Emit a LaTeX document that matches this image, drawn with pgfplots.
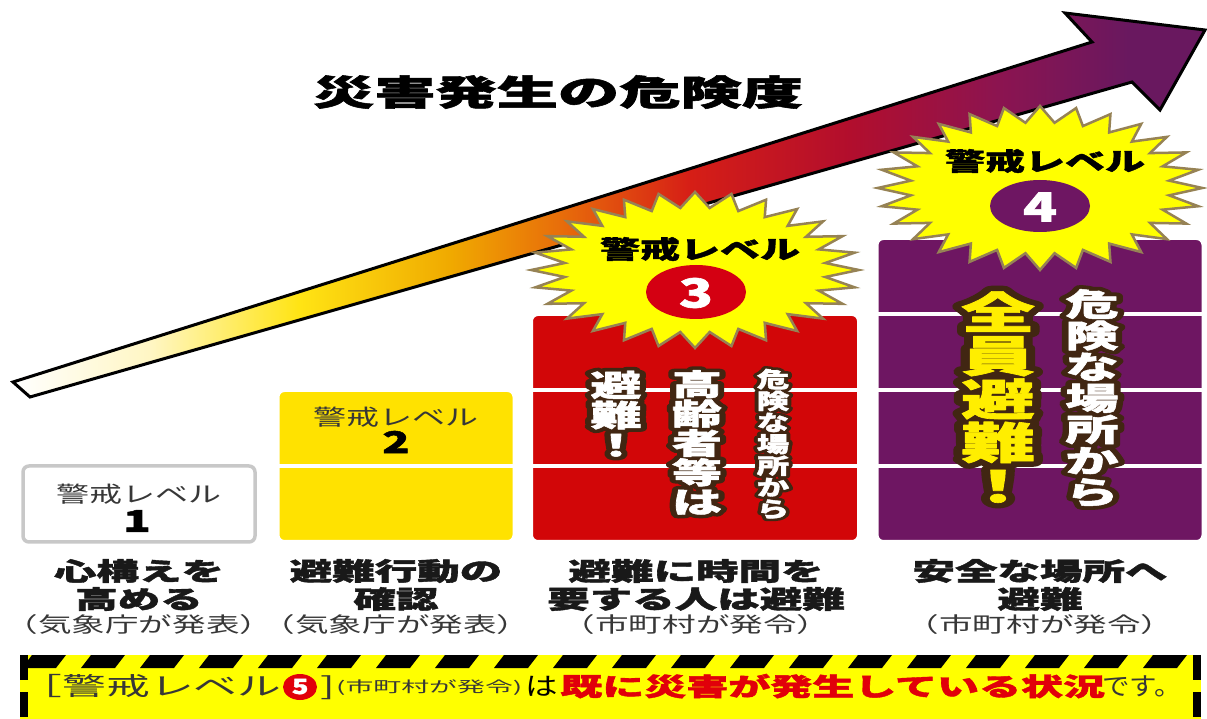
\documentclass[border=0pt]{standalone}
\usepackage{fontspec}
\setmainfont{Noto Sans CJK JP}[BoldFeatures={FakeBold=1.5}]
\newfontfamily\olfont{Noto Sans CJK JP}[BoldFeatures={FakeBold=26}]
\usepackage{graphicx}
\usepackage{pgfplots}
\pgfplotsset{compat=1.18}
\usetikzlibrary{shapes.geometric}

\definecolor{lvgray}{RGB}{200,200,200}
\definecolor{lv2}{RGB}{255,226,0}
\definecolor{lv3}{RGB}{210,6,8}
\definecolor{lv4}{RGB}{110,22,98}
\definecolor{bursty}{RGB}{255,255,0}
\definecolor{burstline}{RGB}{150,130,85}
\definecolor{olbrown}{RGB}{65,38,18}
\definecolor{bigyel}{RGB}{255,238,0}
\definecolor{banyel}{RGB}{255,255,0}
\definecolor{banred}{RGB}{225,0,10}
\definecolor{txgray}{RGB}{55,55,55}
\definecolor{c3}{RGB}{212,0,18}
\definecolor{a1}{RGB}{255,246,195}
\definecolor{a2}{RGB}{255,228,20}
\definecolor{a3}{RGB}{240,170,0}
\definecolor{a4}{RGB}{232,110,10}
\definecolor{a5}{RGB}{214,30,22}
\definecolor{a6}{RGB}{178,14,45}
\definecolor{a7}{RGB}{140,20,80}
\definecolor{a8}{RGB}{105,24,95}

\pgfdeclarehorizontalshading{arrowshade}{100bp}{color(0bp)=(white); color(25bp)=(white); color(30.8bp)=(a1); color(37bp)=(a2); color(43.3bp)=(a3); color(47.9bp)=(a4); color(53.4bp)=(a5); color(60.1bp)=(a6); color(66.3bp)=(a7); color(71.8bp)=(a8); color(100bp)=(a8)}

\newcommand\vstack[1]{\vbox{\offinterlineskip\halign{\hfil\vrule height .88em depth .12em width 0pt##\hfil\cr#1\crcr}}}
% outlined vertical text: emboldened copy in outline colour, plain copy on top
\newcommand\olv[3]{\hbox{\rlap{\color{#1}\special{pdf:code 1 j}\olfont\bfseries\vstack{#3}}{\color{#2}\bfseries\vstack{#3}}}}
\newcommand\T[3]{\scalebox{#1}[1]{\fontsize{#2}{#2}\selectfont #3}}

\pgfplotsset{base/.style={scale only axis, width=1207pt, height=718pt, xmin=0, xmax=1207,
  axis lines=none, ticks=none, at={(0pt,0pt)}, anchor=south west, clip=true}}

\begin{document}
\begin{tikzpicture}
% rising danger arrow
\begin{axis}[base, ymin=0, ymax=718, y dir=reverse]
\addplot[draw=black, line width=3pt, line join=miter, shade, shading=arrowshade, mark=none]
  coordinates {(13,382) (1092,42) (1065,13) (1205,30) (1160,110) (1132,82) (30,397)} -- cycle;
\end{axis}
% warning level blocks (number of blocks = level)
\begin{axis}[base, ymin=-2.31579, ymax=7.13158]
\addplot[ybar, bar shift=0pt, bar width=232, fill=white, draw=lvgray, line width=3.5pt, rounded corners=6pt] coordinates {(139,1)};
\addplot[ybar, bar shift=0pt, bar width=237, fill=lv2, draw=white, line width=4pt, rounded corners=7pt] coordinates {(396,2)};
\addplot[ybar, bar shift=0pt, bar width=328, fill=lv3, draw=white, line width=4pt, rounded corners=7pt] coordinates {(695,3)};
\addplot[ybar, bar shift=0pt, bar width=327, fill=lv4, draw=white, line width=4pt, rounded corners=7pt] coordinates {(1040,4)};
\draw[white, line width=4pt] (axis cs:270,1) -- (axis cs:520,1);
\draw[white, line width=4pt] (axis cs:525,1) -- (axis cs:865,1);
\draw[white, line width=4pt] (axis cs:525,2) -- (axis cs:865,2);
\draw[white, line width=4pt] (axis cs:870,1) -- (axis cs:1207,1);
\draw[white, line width=4pt] (axis cs:870,2) -- (axis cs:1207,2);
\draw[white, line width=4pt] (axis cs:870,3) -- (axis cs:1207,3);
\end{axis}

\begin{scope}[x=1pt, y=-1pt, yshift=718pt]
% title
\node[inner sep=0pt] at (558,92) {\T{1.75}{35}{\bfseries 災害発生の危険度}};
% bursts
\node[star, star points=28, star point ratio=1.25, minimum size=156pt, inner sep=0pt,
  fill=bursty, draw=burstline, line width=2.5pt, xscale=2.1] at (695,270) {};
\node[star, star points=28, star point ratio=1.25, minimum size=164pt, inner sep=0pt,
  fill=bursty, draw=burstline, line width=2.5pt, xscale=1.98] at (1040,188) {};
\fill[c3] (696,292) ellipse [x radius=50, y radius=27];
\fill[lv4] (1040,206) ellipse [x radius=50, y radius=26];
\node[inner sep=0pt] at (700,249) {\T{1.6}{25}{\bfseries 警戒レベル}};
\node[inner sep=0pt, text=white] at (696,293) {\T{1.4}{40}{\bfseries 3}};
\node[inner sep=0pt] at (1045,161) {\T{1.6}{25}{\bfseries 警戒レベル}};
\node[inner sep=0pt, text=white] at (1040,207) {\T{1.4}{40}{\bfseries 4}};
% level 1 / 2 labels
\node[inner sep=0pt, text=txgray] at (139,494) {\T{1.5}{22}{警戒レベル}};
\node[inner sep=0pt] at (137,521) {\T{1.5}{30}{\bfseries 1}};
\node[inner sep=0pt, text=txgray] at (396,417) {\T{1.5}{22}{警戒レベル}};
\node[inner sep=0pt] at (396,442) {\T{1.5}{30}{\bfseries 2}};
% vertical texts
\node[inner sep=0pt] at (616,415) {\scalebox{1.7}[1]{\fontsize{30}{30}\selectfont\olv{olbrown}{white}{避\cr 難\cr ！}}};
\node[inner sep=0pt] at (697,443) {\scalebox{1.7}[1]{\fontsize{29.4}{29.4}\selectfont\olv{olbrown}{white}{高\cr 齢\cr 者\cr 等\cr は}}};
\node[inner sep=0pt] at (773,444) {\scalebox{1.5}[1]{\fontsize{21.6}{21.6}\selectfont\olv{olbrown}{white}{危\cr 険\cr な\cr 場\cr 所\cr か\cr ら}}};
\node[inner sep=0pt] at (998,399) {\scalebox{1.7}[1]{\fontsize{43.4}{43.4}\selectfont\olv{olbrown}{bigyel}{全\cr 員\cr 避\cr 難\cr ！}}};
\node[inner sep=0pt] at (1092,398) {\scalebox{1.7}[1]{\fontsize{31.3}{31.3}\selectfont\olv{olbrown}{white}{危\cr 険\cr な\cr 場\cr 所\cr か\cr ら}}};
% bottom labels
\foreach \x/\a/\b/\c in {139/心構えを/高める/（気象庁が発表）, 396/避難行動の/確認/（気象庁が発表）, 696/避難に時間を/要する人は避難/（市町村が発令）, 1040/安全な場所へ/避難/（市町村が発令）}{
  \node[inner sep=0pt, text={rgb,255:red,25;green,25;blue,25}] at (\x,571) {\T{1.7}{25}{\bfseries \a}};
  \node[inner sep=0pt, text={rgb,255:red,25;green,25;blue,25}] at (\x,599) {\T{1.7}{25}{\bfseries \b}};
  \node[inner sep=0pt, text=txgray] at (\x,625) {\T{1.6}{21}{\c}};
}
% banner
\fill[banyel] (20,655) rectangle (1201,725);
\begin{scope}
\clip (20,650) rectangle (1201,670);
\foreach \i in {0,...,20}{
  \fill[black] ({22+59*\i},668) -- ({56+59*\i},668) -- ({66+59*\i},655) -- ({32+59*\i},655) -- cycle;
}
\end{scope}
\draw[black, line width=8pt, dash pattern=on 25pt off 12pt] (24,655) -- (24,725);
\draw[black, line width=8pt, dash pattern=on 25pt off 12pt] (1197,655) -- (1197,725);
\fill[banred] (300,687) ellipse [x radius=17, y radius=13];
\node[inner sep=0pt, anchor=west] at (19,687) {\hbox{%
  \makebox[262pt][c]{\textcolor{txgray}{\T{1.75}{25}{［警戒レベル}}}%
  \makebox[38pt][c]{\raisebox{1.8pt}{\textcolor{white}{\T{1.3}{21}{\bfseries 5}}}}%
  \makebox[18pt][c]{\textcolor{txgray}{\T{1.75}{25}{]}}}%
  \makebox[184pt][c]{\raisebox{3.8pt}{\textcolor{txgray}{\T{1.86}{15}{(市町村が発令)}}}}%
  \makebox[42pt][c]{\textcolor{black}{\T{1.3}{25}{は}}}%
  \makebox[539pt][c]{\textcolor{banred}{\T{1.68}{25}{\bfseries 既に災害が発生している状況}}}%
  \makebox[80pt][l]{\textcolor{txgray}{\T{1.1}{25}{です。}}}}};
\end{scope}
\pgfresetboundingbox
\useasboundingbox (0,0) rectangle (1207pt,718pt);
\end{tikzpicture}
\end{document}
